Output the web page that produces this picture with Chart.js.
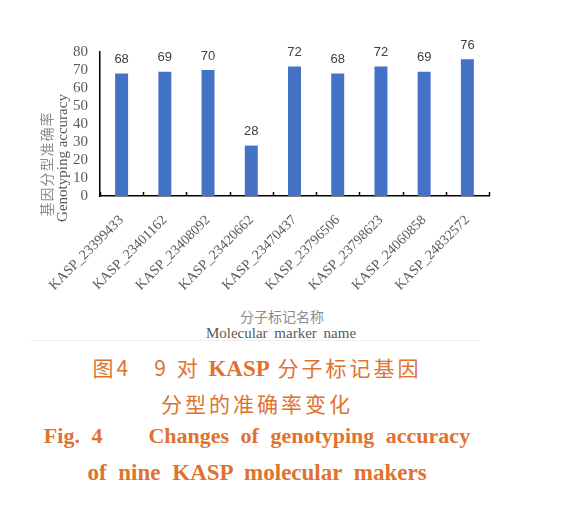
<!DOCTYPE html>
<html>
<head>
<meta charset="utf-8">
<script src="https://cdn.jsdelivr.net/npm/chart.js@4.4.0/dist/chart.umd.min.js"></script>
<style>
  html, body { margin: 0; padding: 0; background: #fff; }
  body { width: 568px; height: 516px; position: relative; overflow: hidden; }
  #wrap { position: absolute; left: 0; top: 0; width: 568px; height: 300px; }
  .abs { position: absolute; white-space: nowrap; }
  .ytitle { transform-origin: center center; transform: translate(-50%, -50%) rotate(-90deg); }
  .cap { left: 257px; transform: translateX(-50%); color: #e0722f; font-weight: bold; }
</style>
</head>
<body>
<div id="wrap"><canvas id="accChart"></canvas></div>

<!-- y axis title -->
<div class="abs ytitle" style="left:46px; top:164px; font-family:'Noto Sans CJK SC'; font-size:14px; color:#8c8c8c; letter-spacing:1px;">基因分型准确率</div>
<div class="abs ytitle" style="left:62px; top:158px; font-family:'Liberation Serif'; font-size:15px; color:#595959;">Genotyping accuracy</div>

<!-- x axis title -->
<div class="abs" style="left:282px; top:316px; transform:translate(-50%,-50%); font-family:'Noto Sans CJK SC'; font-size:14px; color:#8c8c8c;">分子标记名称</div>
<div class="abs" style="left:281px; top:333px; transform:translate(-50%,-50%); font-family:'Liberation Serif'; font-size:15px; color:#595959; word-spacing:3px;">Molecular marker name</div>
<div class="abs" style="left:30px; top:340px; width:450px; height:1px; background:#eeeeee;"></div>

<!-- caption -->
<div class="abs cap" style="top:352px; font-family:'Noto Sans CJK SC'; font-size:21px; font-weight:normal; letter-spacing:3px;">图4&nbsp;&nbsp;&nbsp;9 对 <span style="font-family:'Liberation Serif'; font-weight:bold; font-size:23px; letter-spacing:0;">KASP</span> 分子标记基因</div>
<div class="abs cap" style="top:388px; font-family:'Noto Sans CJK SC'; font-size:21px; font-weight:normal; letter-spacing:3px;">分型的准确率变化</div>
<div class="abs cap" style="top:423px; font-family:'Liberation Serif'; font-size:22px; word-spacing:6px;">Fig. 4&nbsp;&nbsp;&nbsp;&nbsp;Changes of genotyping accuracy</div>
<div class="abs cap" style="top:460px; font-family:'Liberation Serif'; font-size:23px; word-spacing:6px;">of nine KASP molecular makers</div>

<script>
// marker names and genotyping accuracy (%)
const markers = [
  "KASP_23399433", "KASP_23401162", "KASP_23408092", "KASP_23420662",
  "KASP_23470437", "KASP_23796506", "KASP_23798623", "KASP_24060858",
  "KASP_24832572"
];
const accuracy = [68, 69, 70, 28, 72, 68, 72, 69, 76];
const yTicks = [0, 10, 20, 30, 40, 50, 60, 70, 80];

// value labels above the bars
const valueLabels = {
  id: 'valueLabels',
  afterDatasetsDraw(chart) {
    const ctx = chart.ctx;
    const meta = chart.getDatasetMeta(0);
    ctx.save();
    ctx.font = "13px 'Liberation Sans'";
    ctx.fillStyle = '#404040';
    ctx.textAlign = 'center';
    ctx.textBaseline = 'middle';
    meta.data.forEach((bar, i) => {
      ctx.fillText(String(accuracy[i]), bar.x, bar.y - 14);
    });
    ctx.restore();
  }
};

// small inward ticks on the x axis at the category boundaries
const innerTicks = {
  id: 'innerTicks',
  afterDraw(chart) {
    const x = chart.scales.x;
    const ctx = chart.ctx;
    const bottom = chart.chartArea.bottom;
    const half = (x.getPixelForValue(1) - x.getPixelForValue(0)) / 2;
    ctx.save();
    ctx.strokeStyle = '#000';
    ctx.lineWidth = 1.5;
    ctx.beginPath();
    for (let i = 0; i <= markers.length; i++) {
      const px = Math.round(x.getPixelForValue(i) - half) + 0.5;
      ctx.moveTo(px, bottom);
      ctx.lineTo(px, bottom - 4);
    }
    ctx.stroke();
    ctx.restore();
  }
};

new Chart(document.getElementById('accChart'), {
  type: 'bar',
  data: {
    labels: markers,
    datasets: [{
      data: accuracy,
      backgroundColor: '#4472c4',
      categoryPercentage: 0.6,
      barPercentage: 0.5
    }]
  },
  options: {
    responsive: true,
    maintainAspectRatio: false,
    animation: false,
    layout: { padding: { top: 52, right: 79, left: 0, bottom: 0 } },
    plugins: {
      legend: { display: false },
      tooltip: { enabled: false }
    },
    scales: {
      x: {
        afterFit: (scale) => { scale.height = 104; },
        grid: { display: false },
        border: { display: true, color: '#000', width: 1.5 },
        ticks: {
          minRotation: 45,
          maxRotation: 45,
          padding: 8,
          autoSkip: false,
          color: '#595959',
          font: { family: "'Liberation Serif'", size: 14 }
        }
      },
      y: {
        min: 0,
        max: 80,
        afterFit: (scale) => { scale.width = 100; },
        afterBuildTicks: (scale) => { scale.ticks = yTicks.map(v => ({ value: v })); },
        grid: { display: false },
        border: { display: true, color: '#000', width: 1.5 },
        ticks: {
          autoSkip: false,
          stepSize: 10,
          padding: 4,
          color: '#595959',
          font: { family: "'Liberation Serif'", size: 15 }
        }
      }
    }
  },
  plugins: [valueLabels, innerTicks]
});
</script>
</body>
</html>
